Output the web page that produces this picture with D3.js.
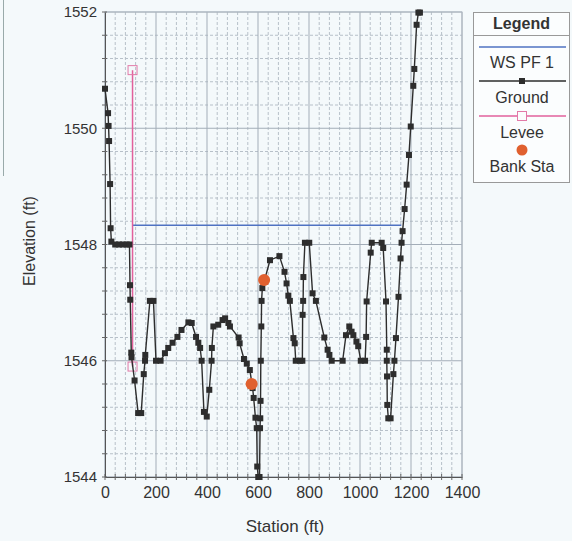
<!DOCTYPE html>
<html>
<head>
<meta charset="utf-8">
<script src="https://cdn.jsdelivr.net/npm/d3@7"></script>
<style>
html,body{margin:0;padding:0;background:#f4f9fb;}
svg{display:block;font-family:"Liberation Sans",Arial,Helvetica,sans-serif;}
</style>
</head>
<body>
<svg id="chart" width="572" height="541"></svg>
<script>
// ---- data ----
const groundStation = [0,12,14,16,20,22,25,40,55,70,85,96,98,99,103,104,116,130,142,152,157,158,176,190,200,218,235,248,265,284,300,327,340,357,366,373,379,388,399,409,418,419,425,444,461,471,484,490,524,528,545,556,568,579,583,590,595,597,601,606,608,609,610,611,613,614,617,647,684,704,712,719,725,739,744,748,765,774,775,777,778,784,801,814,827,860,873,880,889,932,945,958,967,974,986,993,1003,1020,1024,1026,1042,1046,1085,1091,1102,1105,1105,1106,1107,1111,1120,1131,1135,1141,1151,1159,1163,1167,1175,1183,1192,1199,1209,1213,1222,1229,1235];
const groundElev = [1550.68,1550.26,1550.04,1549.78,1549.04,1548.28,1548.05,1548.0,1548.0,1548.0,1548.0,1548.0,1547.30,1547.05,1546.14,1546.06,1545.66,1545.10,1545.10,1545.77,1546.0,1546.1,1547.03,1547.03,1546.0,1546.0,1546.13,1546.22,1546.31,1546.41,1546.53,1546.66,1546.65,1546.41,1546.31,1546.22,1546.0,1545.12,1545.04,1545.5,1546.0,1546.22,1546.59,1546.62,1546.70,1546.73,1546.65,1546.59,1546.40,1546.30,1546.03,1545.95,1545.84,1545.53,1545.36,1545.02,1544.84,1544.18,1544.0,1544.0,1544.84,1545.01,1545.31,1546.0,1546.59,1547.03,1547.25,1547.73,1547.80,1547.53,1547.33,1547.12,1547.03,1546.39,1546.30,1546.0,1546.0,1546.0,1546.79,1547.03,1547.44,1548.03,1548.03,1547.16,1547.03,1546.40,1546.19,1546.10,1546.0,1546.0,1546.44,1546.59,1546.5,1546.44,1546.33,1546.25,1546.0,1546.0,1546.41,1547.02,1547.86,1548.03,1548.03,1547.94,1547.02,1546.19,1546.0,1545.73,1545.24,1545.01,1545.01,1545.77,1546.0,1546.39,1547.1,1547.76,1548.03,1548.23,1548.61,1549.03,1549.54,1550.03,1550.73,1551.02,1551.78,1551.99,1551.99];
const wsStation = [108,1162];
const wsElev = [1548.33,1548.33];
const leveeStation = [108,108];
const leveeElev = [1551.0,1545.9];
const bankStation = [575,624];
const bankElev = [1545.60,1547.39];
const xTicks = [0,200,400,600,800,1000,1200,1400];
const yTicks = [1544,1546,1548,1550,1552];
const legendLabels = ["WS PF 1","Ground","Levee","Bank Sta"];

// ---- layout ----
const svg = d3.select("#chart");
const L = 105, T = 12, R = 462, B = 477;
const x = d3.scaleLinear().domain([0,1400]).range([L,R]);
const y = d3.scaleLinear().domain([1544,1552]).range([B,T]);

// left artifact line
svg.append("line").attr("x1",3.5).attr("x2",3.5).attr("y1",0).attr("y2",176).attr("stroke","#9aa").attr("stroke-width",1);

// minor grid
const xMinor = d3.range(0,1401,40).filter(v=>v%200!==0);
const yMinor = d3.range(1544,1552.001,0.4).filter(v=>Math.abs(v/2-Math.round(v/2))>0.01);
const g = svg.append("g");
g.selectAll(".vx").data(xMinor).enter().append("line")
  .attr("x1",d=>x(d)).attr("x2",d=>x(d)).attr("y1",T).attr("y2",B)
  .attr("stroke","#b7c0c9").attr("stroke-dasharray","3,2").attr("stroke-width",1);
g.selectAll(".hy").data(yMinor).enter().append("line")
  .attr("x1",L).attr("x2",R).attr("y1",d=>y(d)).attr("y2",d=>y(d))
  .attr("stroke","#b7c0c9").attr("stroke-dasharray","3,2").attr("stroke-width",1);
// major grid
g.selectAll(".mx").data(xTicks).enter().append("line")
  .attr("x1",d=>x(d)).attr("x2",d=>x(d)).attr("y1",T).attr("y2",B)
  .attr("stroke","#a3adb8").attr("stroke-width",1);
g.selectAll(".my").data(yTicks).enter().append("line")
  .attr("x1",L).attr("x2",R).attr("y1",d=>y(d)).attr("y2",d=>y(d))
  .attr("stroke","#a3adb8").attr("stroke-width",1);
// frame
svg.append("rect").attr("x",L).attr("y",T).attr("width",R-L).attr("height",B-T)
  .attr("fill","none").attr("stroke","#b0b9c2");

// axes
const xAxis = d3.axisBottom(x).tickValues(xTicks).tickSize(0).tickPadding(10).tickFormat(d3.format("d"));
const ax = svg.append("g").attr("transform",`translate(0,${B})`).call(xAxis);
ax.select(".domain").attr("stroke","#555");
ax.selectAll("text").attr("font-size",16).attr("fill","#333").attr("font-family","Liberation Sans, Arial");
const xTickAll = d3.range(0,1401,40);
svg.append("g").selectAll("line").data(xTickAll).enter().append("line")
  .attr("x1",d=>x(d)).attr("x2",d=>x(d)).attr("y1",B-3).attr("y2",B+3).attr("stroke","#666");

const yAxis = d3.axisLeft(y).tickValues(yTicks).tickSize(0).tickPadding(8).tickFormat(d3.format("d"));
const ay = svg.append("g").attr("transform",`translate(${L},0)`).call(yAxis);
ay.select(".domain").attr("stroke","#555");
ay.selectAll("text").attr("font-size",15).attr("fill","#333").attr("font-family","Liberation Sans, Arial");
const yTickAll = d3.range(1544,1552.001,0.4);
svg.append("g").selectAll("line").data(yTickAll).enter().append("line")
  .attr("x1",L-3).attr("x2",L+2).attr("y1",d=>y(d)).attr("y2",d=>y(d)).attr("stroke","#666");

svg.append("text").attr("x",285).attr("y",532).attr("text-anchor","middle")
  .attr("font-size",17).attr("fill","#333").text("Station (ft)");
svg.append("text").attr("transform","translate(35,241) rotate(-90)").attr("text-anchor","middle")
  .attr("font-size",16).attr("fill","#333").text("Elevation (ft)");

// data marks
const wsData = wsStation.map((s,i)=>[s,wsElev[i]]);
const grData = groundStation.map((s,i)=>[s,groundElev[i]]);
const lvData = leveeStation.map((s,i)=>[s,leveeElev[i]]);
const bkData = bankStation.map((s,i)=>[s,bankElev[i]]);
const line = d3.line().x(d=>x(d[0])).y(d=>y(d[1]));

svg.append("path").datum(wsData).attr("d",line).attr("fill","none").attr("stroke","#4f72c2").attr("stroke-width",1.5);
svg.append("path").datum(lvData).attr("d",line).attr("fill","none").attr("stroke","#e2609c").attr("stroke-width",1.5);
svg.append("g").selectAll("rect").data(lvData).enter().append("rect")
  .attr("x",d=>x(d[0])-4.5).attr("y",d=>y(d[1])-4.5).attr("width",9).attr("height",9)
  .attr("fill","none").attr("stroke","#e27aa8").attr("stroke-width",1);
svg.append("path").datum(grData).attr("d",line).attr("fill","none").attr("stroke","#2d2d2d").attr("stroke-width",1.4);
svg.append("g").selectAll("rect").data(grData).enter().append("rect")
  .attr("x",d=>x(d[0])-3).attr("y",d=>y(d[1])-3).attr("width",6).attr("height",6)
  .attr("fill","#2d2d2d");
svg.append("g").selectAll("circle").data(bkData).enter().append("circle")
  .attr("cx",d=>x(d[0])).attr("cy",d=>y(d[1])).attr("r",6).attr("fill","#e0602f");

// legend
const lg = svg.append("g");
lg.append("rect").attr("x",473.5).attr("y",12.5).attr("width",96).attr("height",170)
  .attr("fill","#fbfdfe").attr("stroke","#999");
lg.append("line").attr("x1",473.5).attr("x2",569.5).attr("y1",35.5).attr("y2",35.5).attr("stroke","#999");
lg.append("text").attr("x",521.5).attr("y",29).attr("text-anchor","middle").attr("font-size",16)
  .attr("font-weight","bold").attr("fill","#333").text("Legend");
const lx1 = 479, lx2 = 566, lcx = 522;
lg.append("line").attr("x1",lx1).attr("x2",lx2).attr("y1",47).attr("y2",47).attr("stroke","#4f72c2").attr("stroke-width",1.5);
lg.append("line").attr("x1",lx1).attr("x2",lx2).attr("y1",81).attr("y2",81).attr("stroke","#2d2d2d").attr("stroke-width",1.4);
lg.append("rect").attr("x",lcx-3).attr("y",78).attr("width",6).attr("height",6).attr("fill","#2d2d2d");
lg.append("line").attr("x1",lx1).attr("x2",lx2).attr("y1",116).attr("y2",116).attr("stroke","#e2609c").attr("stroke-width",1.5);
lg.append("rect").attr("x",lcx-4.5).attr("y",111.5).attr("width",9).attr("height",9).attr("fill","#fbfdfe").attr("stroke","#e27aa8");
lg.append("circle").attr("cx",lcx).attr("cy",150).attr("r",5.5).attr("fill","#e0602f");
const ly = [68,103,138,172];
lg.selectAll(".lt").data(legendLabels).enter().append("text")
  .attr("x",lcx).attr("y",(d,i)=>ly[i]).attr("text-anchor","middle").attr("font-size",16)
  .attr("fill","#333").text(d=>d);
</script>
</body>
</html>
